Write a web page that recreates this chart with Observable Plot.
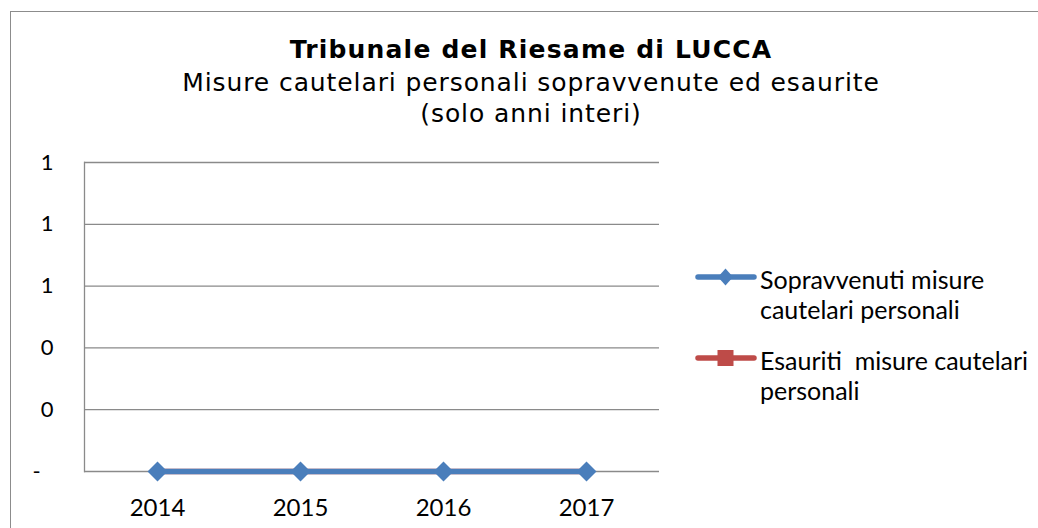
<!DOCTYPE html>
<html><head><meta charset="utf-8">
<script src="https://cdn.jsdelivr.net/npm/d3@7"></script>
<script src="https://cdn.jsdelivr.net/npm/@observablehq/plot@0.6"></script>
<style>
body{margin:0;background:#fff;}
#wrap{position:relative;width:1038px;height:528px;overflow:hidden;background:#fff;}
#frame{position:absolute;left:10px;top:11px;width:1100px;height:600px;border:1.5px solid #8c8c8c;box-sizing:border-box;}
#chart{position:absolute;left:0;top:0;}
#overlay{position:absolute;left:0;top:0;}
</style></head><body>
<div id="wrap"><div id="frame"></div><div id="chart"></div><svg id="overlay" width="1038" height="528"></svg></div>
<script>
const years = ["2014", "2015", "2016", "2017"];
const sopravvenuti = [0, 0, 0, 0];
const esauriti = [0, 0, 0, 0];
const yTicks = [0, 0.2, 0.4, 0.6, 0.8, 1];
const seriesNames = ["Sopravvenuti misure cautelari personali", "Esauriti  misure cautelari personali"];
const legendLines = [["Sopravvenuti misure", "cautelari personali"], ["Esauriti  misure cautelari", "personali"]];
const colors = ["#4A7EBB", "#BE4B48"];
const titleText = "Tribunale del Riesame di LUCCA";
const subtitleLines = ["Misure cautelari personali sopravvenute ed esaurite", "(solo anni interi)"];

const rowsA = years.map((y, i) => ({year: y, value: sopravvenuti[i]}));
const rowsB = years.map((y, i) => ({year: y, value: esauriti[i]}));
const fmt = d3.format(".0f");

const chart = Plot.plot({
  width: 1038, height: 528,
  marginLeft: 84, marginRight: 379, marginTop: 162, marginBottom: 57,
  style: {background: "transparent", color: "#000", fontFamily: "Lato"},
  x: {type: "point", domain: years, padding: 0.5, label: null},
  y: {domain: [0, 1], label: null},
  marks: [
    Plot.ruleY(yTicks, {stroke: "#8a8a8a", strokeWidth: 1.3}),
    Plot.frame({anchor: "left", stroke: "#8a8a8a", strokeWidth: 1.3}),
    Plot.axisY({ticks: yTicks, tickSize: 0, tickPadding: 31, fontSize: 22, label: null, tickFormat: d => d === 0 ? "-\u2007" : fmt(d)}),
    Plot.axisX({tickSize: 0, tickPadding: 27, fontSize: 24, label: null}),
    Plot.line(rowsB, {x: "year", y: "value", stroke: colors[1], strokeWidth: 5.5}),
    Plot.dot(rowsB, {x: "year", y: "value", symbol: "square", r: 4, fill: colors[1]}),
    Plot.line(rowsA, {x: "year", y: "value", stroke: colors[0], strokeWidth: 5.5}),
    Plot.dot(rowsA, {x: "year", y: "value", symbol: "diamond2", r: 9, fill: colors[0]})
  ]
});
document.getElementById("chart").appendChild(chart);

const ov = d3.select("#overlay");
ov.append("text").attr("x", 531).attr("y", 57.5).attr("text-anchor", "middle")
  .attr("font-family", "DejaVu Sans").attr("font-weight", "bold").attr("font-size", 25)
  .attr("letter-spacing", 1.2).text(titleText);
subtitleLines.forEach((t, i) => {
  ov.append("text").attr("x", 531).attr("y", 91 + i * 31).attr("text-anchor", "middle")
    .attr("font-family", "DejaVu Sans").attr("font-size", 25).attr("letter-spacing", 0.9).text(t);
});
const legendY = [277, 358];
seriesNames.forEach((name, i) => {
  const g = ov.append("g").attr("transform", `translate(0,${legendY[i]})`);
  g.append("line").attr("x1", 698).attr("x2", 754).attr("stroke", colors[i]).attr("stroke-width", 5.5).attr("stroke-linecap", "round");
  if (i === 0) g.append("path").attr("d", "M725.5,-8.5L733,0L725.5,8.5L718,0Z").attr("fill", colors[i]);
  else g.append("rect").attr("x", 717.5).attr("y", -8).attr("width", 16).attr("height", 16).attr("fill", colors[i]);
  legendLines[i].forEach((ln, j) => {
    g.append("text").attr("x", 760).attr("y", 12 + j * 29.5).attr("font-family", "Lato").attr("font-size", 25)
      .style("white-space", "pre").text(ln);
  });
});
</script>
</body></html>
